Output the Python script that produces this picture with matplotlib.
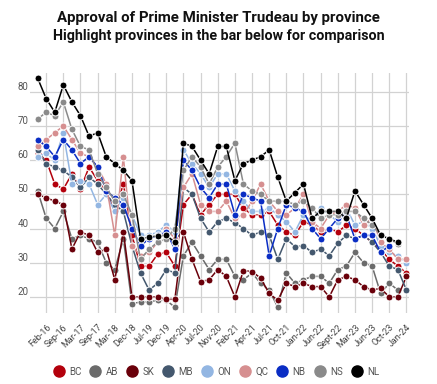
import numpy as np
import matplotlib
matplotlib.use("Agg")
import matplotlib.pyplot as plt
from matplotlib.lines import Line2D

plt.rcParams['font.family'] = ['Roboto', 'DejaVu Sans']

# tick labels (one every second survey)
tick_labels = ["Feb-16", "Sep-16", "Mar-17", "Sep-17", "Mar-18", "Dec-18", "Jul-19",
               "Dec-19", "Apr-20", "Jul-20", "Nov-20", "Feb-21", "Apr-21", "Jul-21",
               "Oct-21", "Jan-22", "Jun-22", "Sept-22", "Mar-23", "Jun-23", "Oct-23",
               "Jan-24"]
nan = np.nan

# approval (%) per survey, 44 surveys
BC = [62, 60, 53, 51.5, 56, 51.5, 58, 54, 51, 45, 53, 38, 29, 29, 32.5, 33, 29, 47, 50, 44,
      47, 50, 50, 50, 46, 44, 44, 45, 41, 39, 38, 42, 41, 39, 40, 39, 41, 40, 38, 36,
      34, 31, 29, 27]
AB = [51, 43, 40, 45, 37, 38, 37, 36, 30, 28, 37, 18, 18.5, 18.5, 19, 19, 17, 32, 36, 32,
      28, 31, 31, 26, 25, 27, 24, 22, 17, 27, 24, 25, 26, 26, 24, 28, 29, 33, 30, 29,
      21, 24, 22, nan]
SK = [50, 49, 48, 47, 34, 39, 38, 33, 34, 25, 39, 20, 20, 20, 20, 19.3, 19.3, 39, 31, 24.5,
      25, 28, 26, 20, 27.7, 27.4, 25.5, 21, 19, 24, 23, 24, 23, 23, 20, 25, 26, 25, 23, 22,
      22.5, 20, 20, 26]
MB = [63, 59, 58, 57, 55, 52, 55, 53, 50, 47, 45, 35, 27, 22, 24, 28, 27, 52, 50, 43,
      39, 42, 43, 41.7, 40, 38, 39, 38, 31, 37, 34.7, 35, 33, 34, 32, 35.7, 38, 37, 38, 36,
      33, 29, 28, 22]
ON = [61, 62, 60, 68, 53, 54, 53, 47, 50, 45, 49, 44, 38, 38, 39, 41, 39, 63, 59, 56,
      52, 56, 56, 51, 48, 45, 45, 46, 44, 42, 39, 44, 42, 46, 44, 42, 46, 41, 42, 40,
      35, 33, 32, 30]
QC = [64, 66, 68, 70, 66, 62, 61, 58, 53, 38, 61, 35, 32, 33, 36, 40, 37, 52, 56, 47,
      45, 45, 48, 43, 44, 48, 53, 48, 45, 44, 46, 50, 42, 40, 44, 45, 47, 46, 41, 43,
      36, 34, 31, 31]
NB = [66, 64, 61, 66, 63, 59, 61, 58, 51, 49, 47, 40, 35, 37, 38, 39, 34, 60, 57, 52,
      49, 53, 53, 44, 50, 49, 48, 32, 40, 47, 46, 45, 40, 37, 40, 43, 44, 37, 38, 38,
      33, 35, nan, nan]
NS = [72, 74, 73, 77, 69, 64, 63, 56, 52, 48, 50, 44, 31, 34, 36, 37, 40, 57, 61, 58,
      53, 58, 61, 65, 53, 51, 50, 48, 48, 48, 47, 48, 46, 43, 44, 44, 45, 45, 43, 41,
      38, 37, 35.5, nan]
NL = [84, 78, 74, 82, 77, 73, 67, 68, 61, 59, 57, 54, 37, 37.5, 37.8, 38, 36, 65, 64, 60,
      56, 64, 64, 54, 59, 60, 61, 63, 55, 48, 50.5, 53, 43, 45, 45, 45, 43, 51, 47, 43,
      38, 37, 36, nan]

series = [("BC", BC, "#b3000c"), ("AB", AB, "#6b6b6b"), ("SK", SK, "#6a000a"),
          ("MB", MB, "#44586e"), ("ON", ON, "#93b6e2"), ("QC", QC, "#d68f90"),
          ("NB", NB, "#0a2dc4"), ("NS", NS, "#8a8a8a"), ("NL", NL, "#000000")]

fig = plt.figure(figsize=(4.37, 3.84), dpi=100)
ax = fig.add_axes([0.0684, 0.185, 0.8675, 0.625])

x = np.arange(len(BC))
for name, vals, col in series:
    ax.plot(x, vals, color=col, lw=1.1, marker='o', ms=5.0, mec='white', mew=0.7,
            label=name, zorder=3)

ticks = np.arange(1, len(BC), 2)
ax.set_xticks(ticks)
ax.set_xticklabels(tick_labels, rotation=45, ha='right', rotation_mode='anchor',
                   fontsize=6.5, color='#444444')
ax.set_yticks([20, 30, 40, 50, 60, 70, 80])
ax.tick_params(axis='y', labelsize=7, colors='#555555', length=0, pad=1)
ax.tick_params(axis='x', length=0, pad=7)
for lab in ax.get_yticklabels():
    lab.set_verticalalignment('bottom')
ax.set_xlim(-0.9, 43.3)
ax.set_ylim(15.3, 85.5)
ax.grid(True, color='#d2d2d2', lw=0.9)
ax.set_axisbelow(True)
for s in ax.spines.values():
    s.set_visible(False)

fig.text(0.5, 0.953, "Approval of Prime Minister Trudeau by province",
         ha='center', va='center', fontsize=10.8, fontweight='bold', color='#111111')
fig.text(0.5, 0.906, "Highlight provinces in the bar below for comparison",
         ha='center', va='center', fontsize=10.3, fontweight='bold', color='#111111')

handles = [Line2D([], [], ls='', marker='o', ms=8, color=col, mec=col)
           for _, _, col in series]
fig.legend(handles, [n for n, _, _ in series], loc='center', ncol=9,
           bbox_to_anchor=(0.494, 0.032), frameon=False, fontsize=7,
           handletextpad=0.45, columnspacing=0.85, handlelength=1.2,
           labelcolor='#555555')

fig.savefig("out.png", dpi=100)
